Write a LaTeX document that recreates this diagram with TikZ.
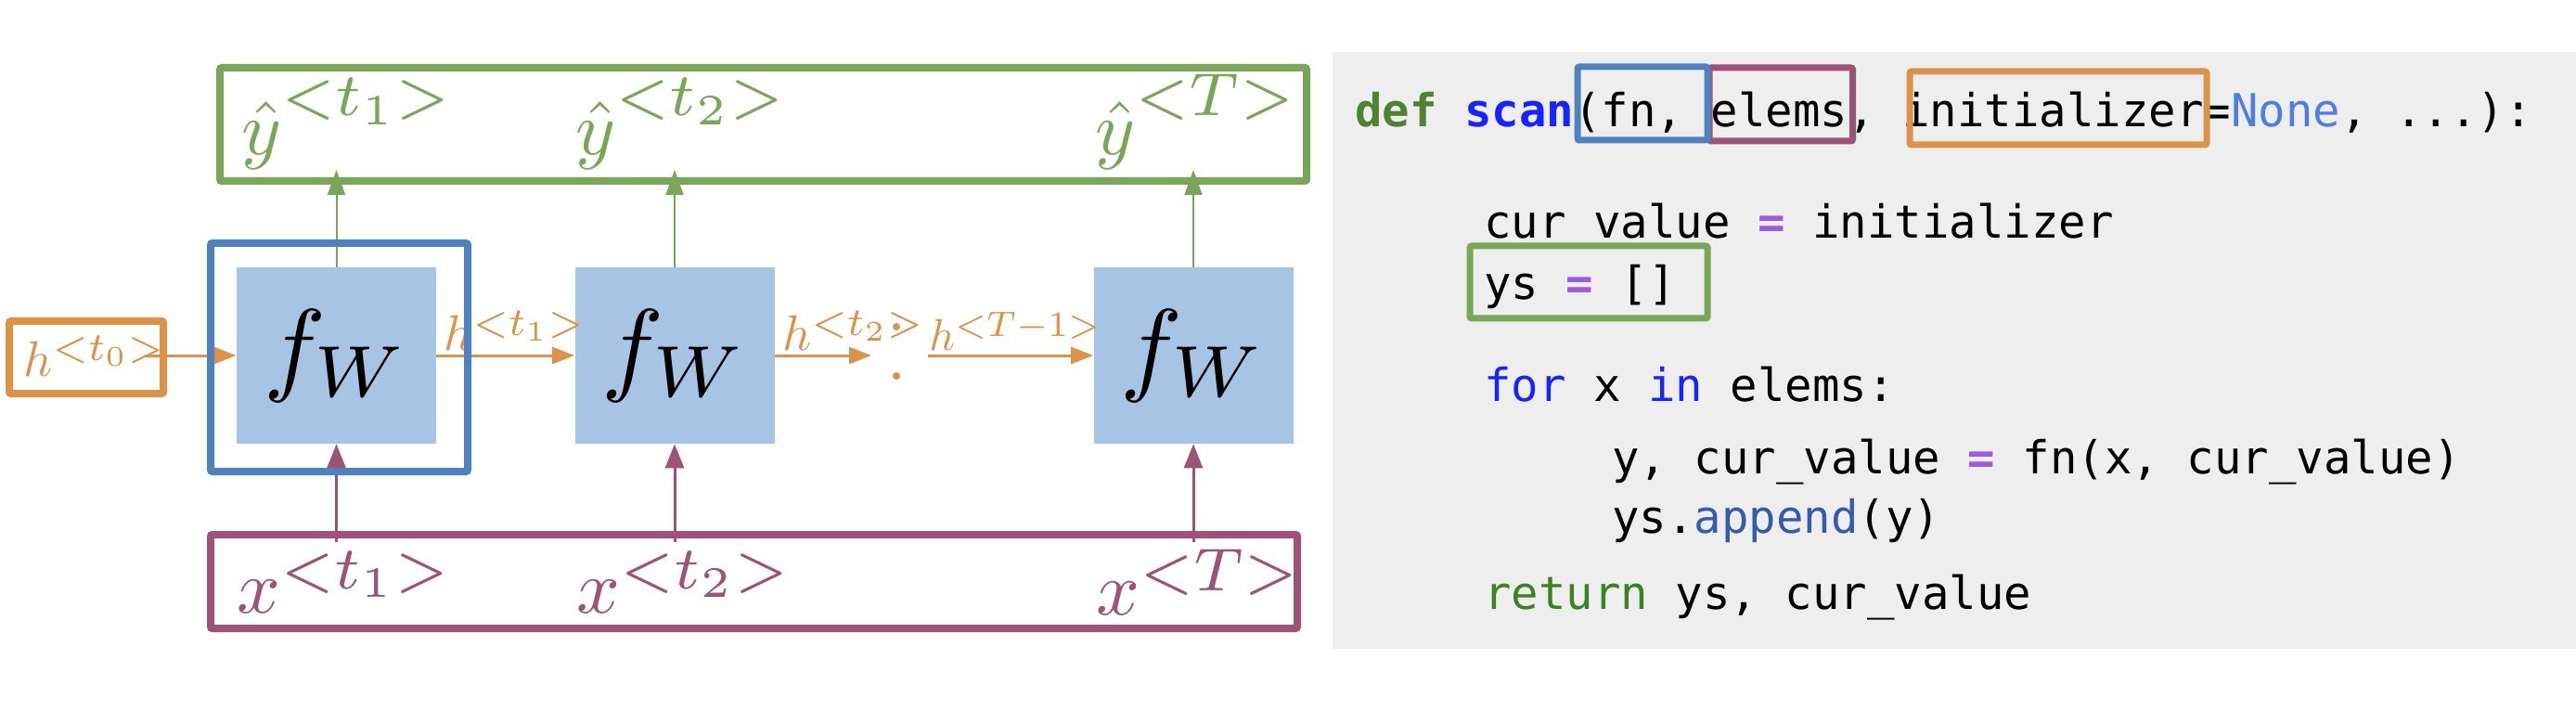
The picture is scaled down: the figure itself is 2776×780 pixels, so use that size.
\documentclass[tikz,border=0pt]{standalone}
\usepackage{fontspec}
\usepackage{graphicx}
\usetikzlibrary{arrows.meta}
\newfontfamily\codefont{DejaVu Sans Mono}
\definecolor{gcol}{RGB}{122,166,90}
\definecolor{bcol}{RGB}{79,129,189}
\definecolor{fwfill}{RGB}{167,196,229}
\definecolor{ocol}{RGB}{219,147,74}
\definecolor{pcol}{RGB}{157,83,117}
\definecolor{panel}{RGB}{238,238,238}
\definecolor{cdef}{RGB}{80,130,50}
\definecolor{cscan}{RGB}{25,35,255}
\definecolor{cnone}{RGB}{80,125,225}
\definecolor{cfor}{RGB}{25,35,255}
\definecolor{ceq}{RGB}{155,90,225}
\definecolor{capp}{RGB}{55,90,170}
\definecolor{cret}{RGB}{60,130,35}
% superscript <...>: #1 raise, #2 extra scale, #3 content
\newcommand{\tsup}[3]{^{\raisebox{#1}{\scalebox{#2}{$\scriptstyle {<}#3{>}$}}}}
\newcommand{\fwlab}[1]{\scalebox{5.6}{$#1$}}
\tikzset{
  bigbox/.style={draw, line width=4pt, rounded corners=1pt, inner sep=0pt},
  fwbox/.style={fill=fwfill, minimum width=107.5pt, minimum height=95pt, inner sep=0pt},
  lab/.style={anchor=base west, inner sep=0pt},
  hlab/.style={anchor=base west, inner sep=0pt, text=ocol},
  code/.style={anchor=base west, inner sep=0pt, font=\codefont\fontsize{24.5}{30}\selectfont},
  codebox/.style={draw, line width=3.5pt, rounded corners=1pt, inner sep=0pt},
  garrow/.style={draw=gcol, line width=1pt, -{Triangle[length=13.5pt,width=9.5pt]}},
  parrow/.style={draw=pcol, line width=1.5pt, -{Triangle[length=13pt,width=10pt]}},
  oarrow/.style={draw=ocol, line width=1.5pt, -{Triangle[length=12pt,width=9pt]}},
}
\begin{document}
\begin{tikzpicture}[x=0.5pt,y=-0.5pt]
\useasboundingbox (0,0) rectangle (2776,780);
% code panel
\fill[panel] (1436,56) rectangle (2776,699);

% cells
\node[fwbox] (f1) at (362.5,383) {\fwlab{f_W}};
\node[fwbox] (f2) at (727,383) {\fwlab{f_W}};
\node[fwbox] (f3) at (1286,383) {\fwlab{f_W}};

% coordinates
\coordinate (ytip) at (0,183);
\coordinate (xbase) at (0,584);
\coordinate (h0s) at (156,383);
\coordinate (d1) at (939,383);
\coordinate (d2) at (1000,383);

% arrows
\draw[garrow] (f1.north) -- (f1.north |- ytip);
\draw[garrow] (f2.north) -- (f2.north |- ytip);
\draw[garrow] (f3.north) -- (f3.north |- ytip);
\draw[parrow] (f1.south |- xbase) -- (f1.south);
\draw[parrow] (f2.south |- xbase) -- (f2.south);
\draw[parrow] (f3.south |- xbase) -- (f3.south);
\draw[oarrow] (h0s) -- (f1.west);
\draw[oarrow] (f1.east) -- (f2.west);
\draw[oarrow] (f2.east) -- (d1);
\draw[oarrow] (d2) -- (f3.west);
\fill[ocol] (966,352) circle (2pt);
\fill[ocol] (966,405) circle (2pt);

% labels
\node[lab, text=gcol] (yl1) at (260,167) {\scalebox{4.1}{$\hat{y}\tsup{0.15em}{1.14}{t_1}$}};
\node[lab, text=gcol] (yl2) at (620,167) {\scalebox{4.1}{$\hat{y}\tsup{0.15em}{1.14}{t_2}$}};
\node[lab, text=gcol] (yl3) at (1180,167) {\scalebox{4.1}{$\hat{y}\tsup{0.15em}{1.14}{T}$}};
\node[lab, text=pcol] (xl1) at (255,660) {\scalebox{4.1}{$x\tsup{-0.05em}{1.14}{t_1}$}};
\node[lab, text=pcol] (xl2) at (621,660) {\scalebox{4.1}{$x\tsup{-0.05em}{1.14}{t_2}$}};
\node[lab, text=pcol] (xl3) at (1181,662) {\scalebox{4.1}{$x\tsup{-0.05em}{1.14}{T}$}};
\node[hlab] (hl0) at (25,405) {\scalebox{2.7}{$h\tsup{-0.05em}{1.14}{t_0}$}};
\node[hlab] (hl1) at (478,378) {\scalebox{2.7}{$h\tsup{-0.05em}{1.14}{t_1}$}};
\node[hlab] (hl2) at (843,378) {\scalebox{2.7}{$h\tsup{-0.05em}{1.14}{t_2}$}};
\node[hlab] (hl3) at (1001,378) {\scalebox{2.4}{$h\tsup{-0.05em}{1.14}{T-1}$}};

% big boxes
\node[bigbox, draw=gcol, minimum width=585.5pt, minimum height=61pt] (ybox) at (822.5,134) {};
\node[bigbox, draw=pcol, minimum width=585.5pt, minimum height=50.5pt] (xbox) at (812.5,626.5) {};
\node[bigbox, draw=bcol, minimum width=138.5pt, minimum height=123pt] (cell) at (365.5,385) {};
\node[bigbox, draw=ocol, minimum width=83pt, minimum height=39pt] (h0box) at (93,385) {};

% code
\node[code] (c1) at (1460,137) {{\bfseries\color{cdef}def} {\bfseries\color{cscan}scan}(fn, elems, initializer=\textcolor{cnone}{None}, ...):};
\node[code] (c2) at (1599,257) {cur\_value \textcolor{ceq}{\bfseries =} initializer};
\node[codebox, draw=gcol, fill=panel, minimum width=128pt, minimum height=39pt] (ysbox) at (1712,304) {};
\node[code] (c3) at (1599,323) {ys \textcolor{ceq}{\bfseries =} []};
\node[code] (c4) at (1599,432) {\textcolor{cfor}{for} x \textcolor{cfor}{in} elems:};
\node[code] (c5) at (1737,510) {y, cur\_value \textcolor{ceq}{\bfseries =} fn(x, cur\_value)};
\node[code] (c6) at (1737,574) {ys.\textcolor{capp}{append}(y)};
\node[code] (c7) at (1599,656) {\textcolor{cret}{return} ys, cur\_value};

\node[codebox, draw=pcol, minimum width=77.25pt, minimum height=39.5pt] (elbox) at (1919.25,112.5) {};
\node[codebox, draw=bcol, minimum width=70pt, minimum height=39.5pt] (fnbox) at (1770,111.5) {};
\node[codebox, draw=ocol, minimum width=160pt, minimum height=39.5pt] (inbox) at (2218,116.5) {};
\end{tikzpicture}
\end{document}
